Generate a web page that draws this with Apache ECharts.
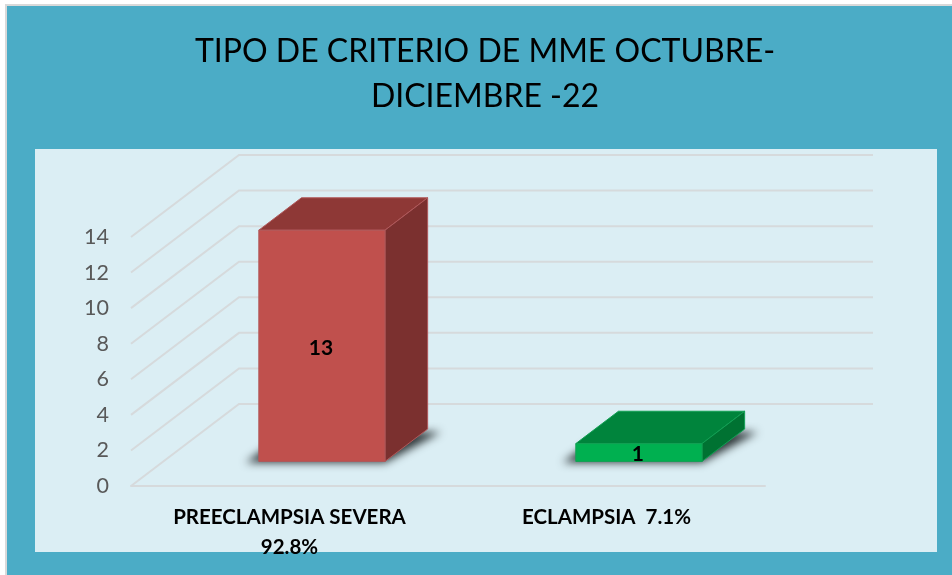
<!DOCTYPE html>
<html>
<head>
<meta charset="utf-8">
<title>Tipo de criterio de MME</title>
<script src="https://cdn.jsdelivr.net/npm/echarts@6/dist/echarts.min.js"></script>
<style>
  html, body { margin: 0; padding: 0; background: #fff; }
  #main { width: 952px; height: 575px; }
</style>
</head>
<body>
<div id="main"></div>
<script>
// datos
const categories = ['PREECLAMPSIA SEVERA\n92.8%', 'ECLAMPSIA  7.1%'];
const values = [13, 1];
const yTicks = [0, 2, 4, 6, 8, 10, 12, 14];

const faceColors = [
  { front: '#C0504D', top: '#8E3836', side: '#7B302F', line: '#B0585A' },
  { front: '#00B050', top: '#00843C', side: '#007232', line: '#12A054' }
];

// perspectiva: cuanto se desplaza el fondo del piso respecto al frente
const depthX = 108;
const depthY = 82;
const barFrontDepth = 0.30;
const barBackDepth = 0.695;
const barWidthRatio = 0.398;
const shadowShift = 2000;

let chart = echarts.init(document.getElementById('main'));

function renderWall(params, api) {
  const p = api.coord([0, api.value(1)]);
  const band = api.size([1, 0])[0];
  const left = p[0] - band / 2;
  const right = left + band * categories.length;
  return {
    type: 'polyline',
    shape: { points: [[left, p[1]], [left + depthX, p[1] - depthY], [right + depthX, p[1] - depthY]] },
    style: { fill: 'none', stroke: '#D6DADC', lineWidth: 2 }
  };
}

function renderBar(params, api) {
  const i = api.value(0);
  const top = api.coord([i, api.value(1)]);
  const base = api.coord([i, 0]);
  const w = api.size([1, 0])[0] * barWidthRatio;
  const c = faceColors[i];

  const fx = top[0] - w / 2 + depthX * barFrontDepth;
  const fBase = base[1] - depthY * barFrontDepth;
  const fTop = top[1] - depthY * barFrontDepth;
  const dx = depthX * (barBackDepth - barFrontDepth);
  const dy = depthY * (barBackDepth - barFrontDepth);
  const edge = { stroke: c.line, lineWidth: 1 };

  return {
    type: 'group',
    children: [
      // sombra difusa: el poligono queda fuera de la vista, solo se ve su sombra
      {
        type: 'polygon',
        shape: { points: [
          [fx - 13 - shadowShift, fBase + 1],
          [fx + dx - 13 - shadowShift, fBase - dy + 3],
          [fx + w + dx + 13 - shadowShift, fBase - dy + 3],
          [fx + w - shadowShift, fBase + 1]
        ] },
        style: { fill: '#2E3638', shadowBlur: 8, shadowColor: '#2E3638', shadowOffsetX: shadowShift }
      },
      {
        type: 'polygon',
        shape: { points: [[fx, fTop], [fx + dx, fTop - dy], [fx + w + dx, fTop - dy], [fx + w, fTop]] },
        style: Object.assign({ fill: c.top }, edge)
      },
      {
        type: 'polygon',
        shape: { points: [[fx + w, fTop], [fx + w + dx, fTop - dy], [fx + w + dx, fBase - dy], [fx + w, fBase]] },
        style: Object.assign({ fill: c.side }, edge)
      },
      {
        type: 'rect',
        shape: { x: fx, y: fTop, width: w, height: fBase - fTop },
        style: Object.assign({ fill: c.front }, edge)
      },
      {
        type: 'text',
        style: {
          text: String(api.value(1)),
          x: fx + w / 2 - 1,
          y: (fTop + fBase) / 2 + 2,
          align: 'center',
          verticalAlign: 'middle',
          fill: '#000',
          font: 'bold 21px Lato'
        }
      }
    ]
  };
}

let option = {
  backgroundColor: '#fff',
  animation: false,
  textStyle: { fontFamily: 'Lato' },
  graphic: [
    { type: 'rect', z: -10, shape: { x: 6, y: 5, width: 960, height: 590 },
      style: { fill: '#4BACC6', stroke: '#D9D9D9', lineWidth: 2 } },
    { type: 'rect', z: -9, shape: { x: 35, y: 149, width: 902, height: 403 },
      style: { fill: '#DBEEF4' } }
  ],
  title: {
    text: 'TIPO DE CRITERIO DE MME OCTUBRE-\nDICIEMBRE -22',
    left: 480,
    top: 24,
    textAlign: 'center',
    textStyle: { fontFamily: 'Lato', fontSize: 32, fontWeight: 'normal', color: '#000', lineHeight: 45 }
  },
  grid: { left: 131, right: 187, top: 237, bottom: 89 },
  xAxis: {
    type: 'category',
    data: categories,
    axisTick: { show: false },
    axisLine: { lineStyle: { color: '#D6DADC', width: 2 } },
    axisLabel: {
      interval: 0,
      margin: 16,
      color: '#000',
      fontFamily: 'Lato',
      fontWeight: 'bold',
      fontSize: 20.5,
      lineHeight: 30
    }
  },
  yAxis: {
    type: 'value',
    min: 0,
    max: 14,
    interval: 2,
    axisLine: { show: false },
    axisTick: { show: false },
    splitLine: { show: false },
    axisLabel: { margin: 22, color: '#595959', fontFamily: 'Lato', fontSize: 21.5, padding: [5, 0, 0, 0] }
  },
  series: [
    {
      type: 'custom',
      renderItem: renderWall,
      silent: true,
      z: 1,
      encode: { x: 0, y: 1 },
      data: yTicks.map(t => [0, t])
    },
    {
      type: 'custom',
      renderItem: renderBar,
      silent: true,
      z: 2,
      encode: { x: 0, y: 1 },
      data: values.map((v, i) => [i, v])
    }
  ]
};
chart.setOption(option);
</script>
</body>
</html>
